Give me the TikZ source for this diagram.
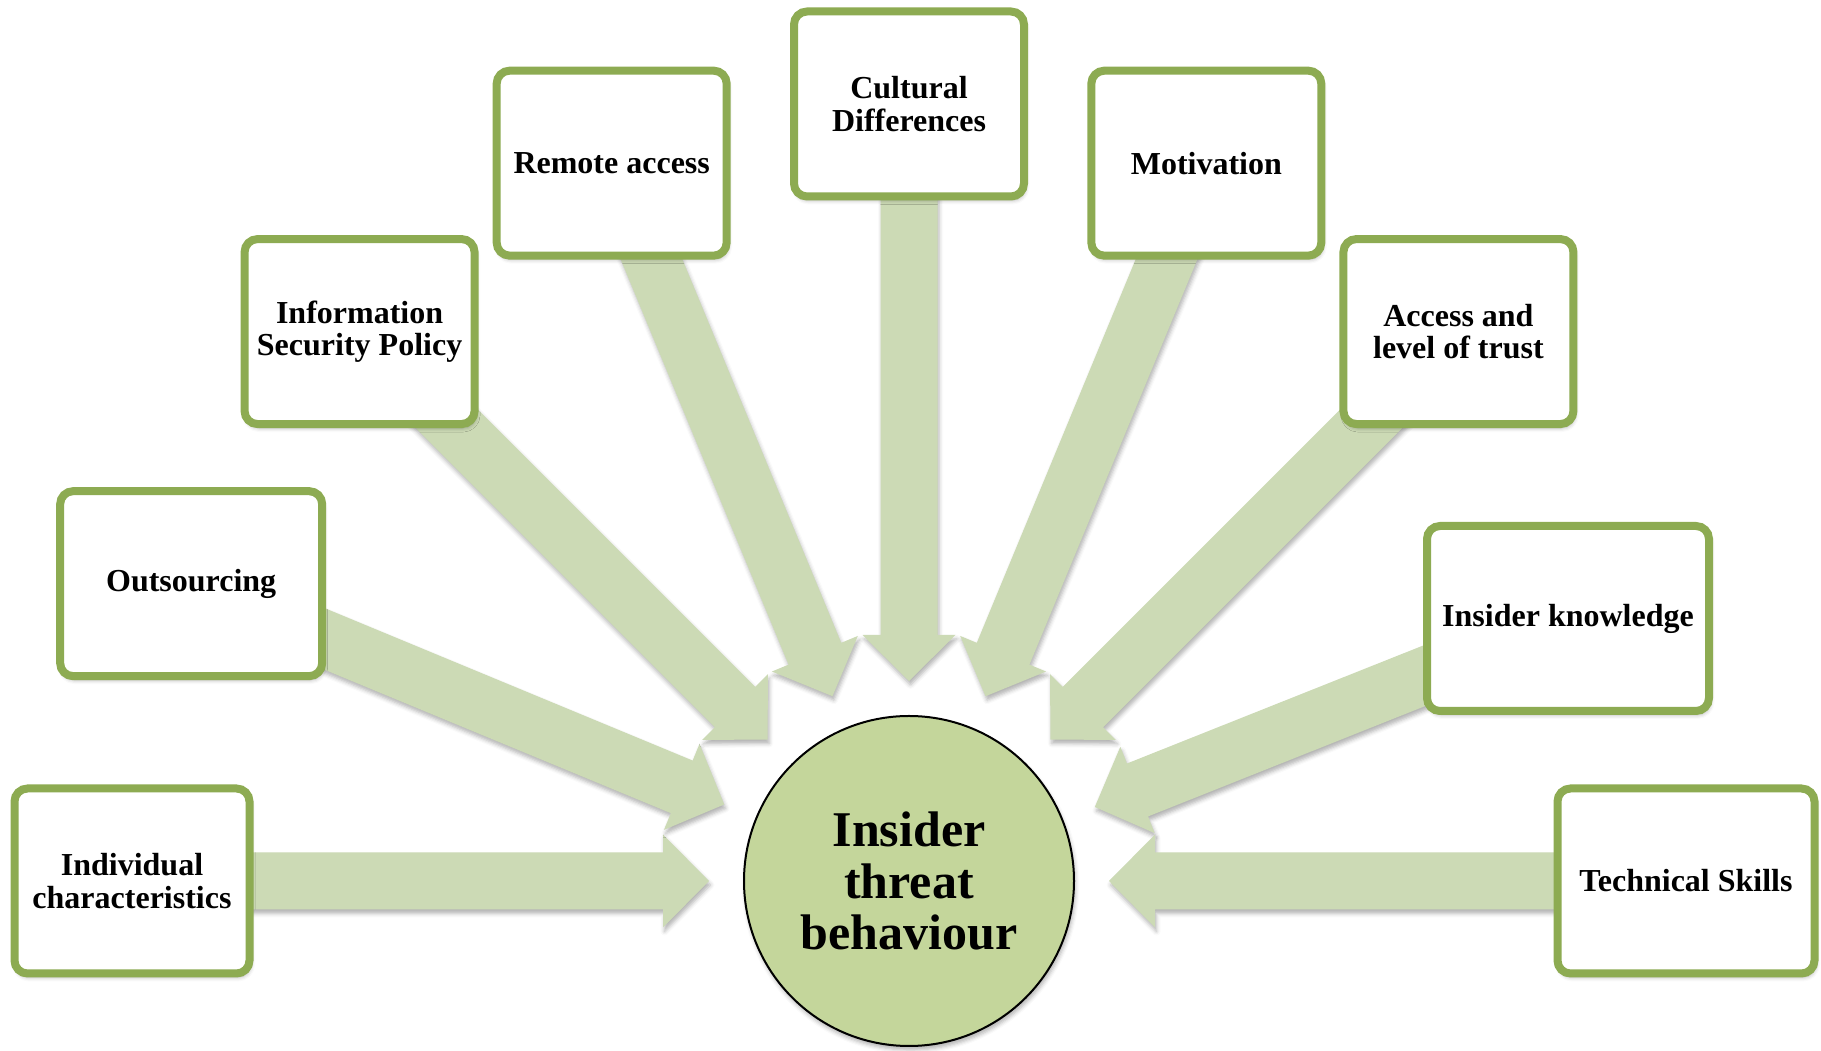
\documentclass[tikz,border=0pt]{standalone}
\usepackage{fontspec}
\setmainfont{Liberation Serif}
\usetikzlibrary{calc,shadows.blur}

\definecolor{boxrim}{RGB}{141,171,82}
\definecolor{rayfill}{RGB}{204,218,181}
\definecolor{hubfill}{RGB}{196,214,155}

\pgfdeclarelayer{rays}
\pgfsetlayers{rays,main}

\tikzset{
  softshadow/.style={blur shadow={shadow xshift=1.5pt, shadow yshift=-4pt,
      shadow blur radius=4pt, shadow opacity=30}},
  factor/.style={rectangle, draw=boxrim, line width=8pt, fill=white,
      rounded corners=13pt, align=center, inner sep=0pt,
      minimum height=185pt, minimum width=230pt,
      font=\fontsize{32}{32.5}\selectfont\bfseries, softshadow},
  ray/.style={fill=rayfill, softshadow},
  hub/.style={circle, draw=black, line width=2pt, fill=hubfill,
      minimum size=330pt, inner sep=0pt, align=center,
      font=\fontsize{50}{51.5}\selectfont\bfseries, softshadow}
}

% block arrow from a factor box towards the hub, tip 200pt from the hub centre
\newcommand\feedray[1]{%
  \coordinate (#1-tip)  at ($(c)!200pt!(#1)$);
  \coordinate (#1-neck) at ($(c)!246pt!(#1)$);
  \fill[ray] (#1-tip)
    -- ($(#1-neck)!46.5pt!90:(c)$)
    -- ($(#1-neck)!28.5pt!90:(c)$)
    -- ($(#1)!28.5pt!90:(c)$)
    -- ($(#1)!28.5pt!-90:(c)$)
    -- ($(#1-neck)!28.5pt!-90:(c)$)
    -- ($(#1-neck)!46.5pt!-90:(c)$)
    -- cycle;
}

\begin{document}
\begin{tikzpicture}[x=1pt,y=1pt]
  \useasboundingbox (0,0) rectangle (1821,1051);

  % central hub
  \node[hub] (c) at (909,170) {Insider\\threat\\behaviour};

  % influencing factors
  \node[factor, minimum width=235pt] (ind) at ($(c)+(180:777pt)$) {Individual\\characteristics};
  \node[factor, minimum width=262pt] (out) at ($(c)+(157.5:777pt)$) {Outsourcing};
  \node[factor] (isp) at ($(c)+(135:777pt)$) {Information\\Security Policy};
  \node[factor] (rem) at ($(c)+(112.5:777pt)$) {Remote access};
  \node[factor] (cul) at ($(c)+(90:777pt)$) {Cultural\\Differences};
  \node[factor] (mot) at ($(c)+(67.5:777pt)$) {Motivation};
  \node[factor] (acc) at ($(c)+(45:777pt)$) {Access and\\level of trust};
  \node[factor, minimum width=282pt] (ikn) at (1568,432.5) {Insider knowledge};
  \node[factor, minimum width=257pt] (tec) at ($(c)+(0:777pt)$) {Technical Skills};

  % arrows behind the boxes
  \begin{pgfonlayer}{rays}
    \feedray{ind}
    \feedray{out}
    \feedray{isp}
    \feedray{rem}
    \feedray{cul}
    \feedray{mot}
    \feedray{acc}
    \feedray{ikn}
    \feedray{tec}
  \end{pgfonlayer}
\end{tikzpicture}
\end{document}
